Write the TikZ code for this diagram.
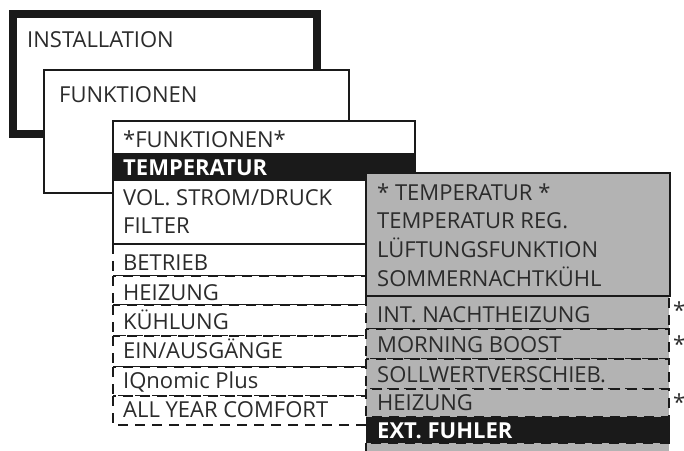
\documentclass[tikz,border=0pt]{standalone}
\usepackage{fontspec}
\setmainfont{Open Sans}
\usetikzlibrary{positioning}
\definecolor{ink}{HTML}{1A1A1A}
\definecolor{txt}{HTML}{2B2B2B}
\definecolor{panel}{HTML}{B3B3B3}

\begin{document}
\begin{tikzpicture}[
    x=1pt, y=-1pt,
    every node/.style={font=\fontsize{22}{26}\selectfont, text=txt, inner sep=0pt, anchor=base west},
    frame/.style={draw=ink, line width=1.8pt, fill=white},
    dashrow/.style={draw=ink, line width=2.4pt, dash pattern=on 10pt off 7pt},
    sel/.style={text=white, font=\fontsize{22}{26}\selectfont\bfseries}
]
    \useasboundingbox (0,0) rectangle (684,450);

    % level 1 and 2
    \draw[ink, line width=8pt, fill=white] (13,14) rectangle (317,134);
    \node (inst) at (27,47) {INSTALLATION};
    \draw[frame] (44,70) rectangle (349,193);
    \node (funk) at (59,102) {FUNKTIONEN};

    % function list
    \foreach \top/\bot in {244/276, 276/305, 305/336, 336/367, 367/396, 396/425}
        \draw[dashrow, fill=white] (113,\top) rectangle (400,\bot);
    \draw[frame] (113,121) rectangle (415,244);
    \node (hdr) at (123,147) {*FUNKTIONEN*};
    \fill[ink] (113,153) rectangle (416,181);
    \node[sel] (temp) at (123,175) {TEMPERATUR};
    \node (vol) at (123,205) {VOL. STROM/DRUCK};
    \node (filt) at (123,233) {FILTER};
    \foreach \txt/\y [count=\i] in {BETRIEB/270, HEIZUNG/300, KÜHLUNG/329, {EIN/AUSGÄNGE}/358, IQnomic Plus/388, ALL YEAR COMFORT/417}
        \node (opt\i) at (123,\y) {\txt};

    % temperature submenu
    \foreach \top/\bot in {296/329, 329/359, 359/389, 389/417, 443/462}
        \draw[dashrow, fill=panel] (366,\top) rectangle (669,\bot);
    \fill[ink] (366,417) rectangle (670,443);
    \draw[frame, fill=panel] (366,173) rectangle (670,296);
    \foreach \txt/\y [count=\i] in {* TEMPERATUR */200, TEMPERATUR REG./228, LÜFTUNGSFUNKTION/257, SOMMERNACHTKÜHL/286, INT. NACHTHEIZUNG/322, MORNING BOOST/352, SOLLWERTVERSCHIEB./382, HEIZUNG/410}
        \node (sub\i) at (377,\y) {\txt};
    \node[sel] (ext) at (377,438) {EXT. FUHLER};

    % side marks
    \foreach \y [count=\i] in {318, 352, 410}
        \node (mark\i) at (673,\y) {*};
\end{tikzpicture}
\end{document}
